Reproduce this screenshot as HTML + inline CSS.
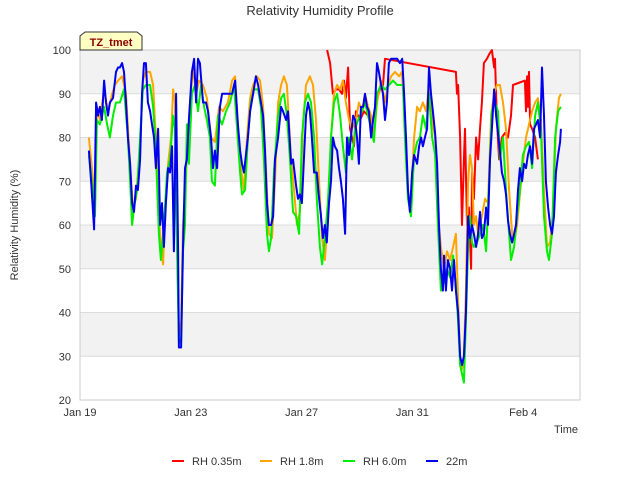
<!DOCTYPE html>
<html><head><meta charset="utf-8"><style>
body{margin:0;background:#fff;font-family:"Liberation Sans",sans-serif;}
svg text{font-family:"Liberation Sans",sans-serif;}
</style></head><body>
<svg width="640" height="480" xmlns="http://www.w3.org/2000/svg">
<text x="320" y="15" text-anchor="middle" font-size="13" fill="#333">Relativity Humidity Profile</text>
<g id="plot"></g>
<text x="18" y="225" transform="rotate(-90 18 225)" text-anchor="middle" font-size="11" fill="#333">Relativity Humidity (%)</text>
<text x="578" y="433" text-anchor="end" font-size="11" fill="#333">Time</text>
<g>
<polygon points="80,36 85,32 137,32 142,36 142,50 80,50" fill="#ffffc4" stroke="#333" stroke-width="1"/>
<text x="111" y="46" text-anchor="middle" font-size="11" font-weight="bold" fill="#8b0000">TZ_tmet</text>
</g>
<g id="legend"></g>
</svg>
<script>
const yTicks=[20,30,40,50,60,70,80,90,100];
const xTickDays=[0,4,8,12,16];
const xTickLabels=["Jan 19","Jan 23","Jan 27","Jan 31","Feb 4"];
const seriesNames=["RH 0.35m","RH 1.8m","RH 6.0m","22m"];
const seriesColors=["#ff0000","#ffa500","#00ee00","#0000ee"];
const redT=[8.92,9.03,9.13,9.24,9.35,9.46,9.53,9.60,9.68,9.75,9.82,9.89,9.96,10.11,10.25,10.40,10.54,10.69,10.83,10.94,11.01,13.57,13.61,13.65,13.72,13.79,13.86,13.90,13.97,14.04,14.12,14.15,14.22,14.30,14.37,14.44,14.51,14.58,14.69,14.77,14.87,14.95,14.98,15.05,15.13,15.23,15.34,15.45,15.56,15.63,16.06,16.10,16.14,16.17,16.21,16.25,16.32,16.43,16.53];
const redV=[100,97,90,91,91,90,93,89,96,82,80,78,86,84,86,85,83,88,91,92,98,95,90,92,80,60,75,82,60,64,50,72,66,80,75,82,88,97,98,99,100,96,98,84,75,80,81,80,85,92,93,86,94,87,95,83,82,80,75];
const orangeT=[.32,.43,.54,.61,.72,.87,1.01,1.16,1.26,1.37,1.52,1.66,1.81,1.91,2.02,2.17,2.27,2.38,2.53,2.64,2.71,2.78,2.85,2.92,3.00,3.07,3.18,3.29,3.36,3.43,3.50,3.57,3.65,3.72,3.79,3.86,3.97,4.08,4.19,4.30,4.44,4.58,4.73,4.87,5.02,5.16,5.34,5.49,5.60,5.70,5.81,5.92,6.03,6.14,6.25,6.39,6.50,6.61,6.71,6.82,6.93,7.04,7.15,7.26,7.36,7.47,7.62,7.73,7.83,7.94,8.05,8.16,8.30,8.41,8.52,8.63,8.74,8.84,8.95,9.06,9.17,9.28,9.39,9.49,9.60,9.71,9.82,9.96,10.07,10.18,10.29,10.40,10.51,10.61,10.72,10.87,11.01,11.12,11.23,11.37,11.52,11.62,11.73,11.84,11.95,12.06,12.17,12.27,12.38,12.49,12.60,12.71,12.82,12.92,13.03,13.14,13.25,13.36,13.47,13.57,13.65,13.72,13.79,13.86,13.93,14.01,14.08,14.15,14.22,14.30,14.37,14.44,14.51,14.62,14.73,14.84,14.95,15.05,15.16,15.27,15.38,15.49,15.60,15.67,15.78,15.88,15.99,16.10,16.21,16.32,16.43,16.53,16.64,16.75,16.86,16.97,17.08,17.18,17.29,17.36];
const orangeV=[80,73,65,87,84,91,86,90,92,93,94,90,74,64,66,78,93,95,95,92,83,78,62,55,51,63,74,80,91,88,58,35,38,60,67,76,88,96,90,93,92,89,80,79,87,86,88,93,94,83,73,68,80,89,92,94,93,87,73,58,57,70,88,92,94,92,75,68,60,63,83,92,94,92,84,70,57,52,62,80,90,92,91,93,88,84,82,84,88,86,90,87,85,80,88,93,88,92,94,95,94,95,84,66,66,80,87,86,88,86,92,84,80,62,55,50,54,52,55,58,43,30,27,30,45,70,76,73,60,62,58,60,62,66,65,85,90,92,92,88,82,68,58,56,60,67,74,80,83,86,88,89,84,68,55,56,63,82,89,90];
const greenT=[.32,.43,.54,.61,.72,.87,.98,1.08,1.19,1.30,1.44,1.59,1.73,1.81,1.88,1.95,2.06,2.17,2.27,2.38,2.53,2.64,2.71,2.78,2.85,2.92,3.03,3.14,3.25,3.36,3.43,3.50,3.57,3.65,3.72,3.79,3.86,3.93,4.04,4.15,4.26,4.37,4.48,4.58,4.69,4.76,4.87,4.98,5.13,5.27,5.42,5.56,5.67,5.78,5.85,5.96,6.06,6.17,6.28,6.43,6.53,6.64,6.75,6.82,6.90,7.00,7.15,7.26,7.36,7.47,7.58,7.69,7.80,7.91,8.01,8.12,8.23,8.34,8.45,8.55,8.66,8.74,8.84,8.95,9.06,9.17,9.28,9.39,9.49,9.60,9.71,9.82,9.93,10.04,10.18,10.29,10.40,10.51,10.61,10.72,10.87,11.01,11.16,11.30,11.45,11.59,11.66,11.73,11.84,11.95,12.06,12.17,12.27,12.38,12.49,12.60,12.71,12.82,12.92,13.03,13.14,13.25,13.36,13.47,13.57,13.65,13.72,13.79,13.86,13.93,14.01,14.08,14.15,14.22,14.33,14.44,14.55,14.66,14.77,14.87,14.98,15.09,15.16,15.27,15.38,15.49,15.56,15.67,15.78,15.88,15.99,16.10,16.21,16.32,16.43,16.53,16.64,16.75,16.86,16.93,17.04,17.15,17.26,17.36];
const greenV=[76,70,62,84,83,87,83,80,85,88,88,91,80,70,60,64,68,80,91,92,92,87,80,70,58,52,60,72,75,85,82,55,33,34,54,60,83,74,90,92,86,92,87,84,80,70,69,85,83,86,88,92,82,72,67,68,80,88,91,91,87,75,58,54,57,72,85,89,90,85,75,63,62,58,80,88,90,88,80,66,55,51,57,65,80,88,90,85,78,72,80,75,82,84,86,88,85,82,79,90,92,91,92,93,92,92,92,80,66,62,76,79,80,85,82,90,80,76,60,45,47,50,48,53,46,38,28,26,24,38,55,62,56,55,56,58,60,54,70,86,88,86,75,80,68,58,52,55,62,68,76,78,79,73,85,88,82,62,54,52,58,80,86,87];
const blueT=[.32,.40,.51,.58,.65,.72,.79,.87,.94,1.01,1.08,1.19,1.30,1.37,1.44,1.52,1.59,1.66,1.73,1.81,1.88,1.95,2.02,2.09,2.17,2.24,2.31,2.38,2.45,2.53,2.60,2.67,2.74,2.82,2.89,2.96,3.03,3.10,3.18,3.25,3.32,3.39,3.47,3.54,3.57,3.65,3.72,3.79,3.86,3.93,4.04,4.12,4.19,4.26,4.33,4.44,4.55,4.62,4.73,4.80,4.87,4.95,5.05,5.13,5.23,5.34,5.49,5.60,5.70,5.78,5.85,5.92,5.99,6.06,6.14,6.25,6.35,6.43,6.53,6.61,6.68,6.75,6.82,6.90,6.97,7.04,7.15,7.26,7.33,7.44,7.51,7.62,7.69,7.80,7.87,7.94,8.01,8.09,8.16,8.23,8.30,8.37,8.45,8.55,8.63,8.70,8.77,8.84,8.91,8.99,9.06,9.13,9.20,9.28,9.35,9.42,9.49,9.57,9.64,9.71,9.78,9.86,9.93,10.00,10.07,10.14,10.22,10.29,10.36,10.43,10.51,10.58,10.65,10.72,10.79,10.87,10.94,11.01,11.08,11.15,11.23,11.34,11.45,11.55,11.63,11.70,11.77,11.84,11.91,11.99,12.06,12.17,12.24,12.31,12.38,12.45,12.53,12.60,12.67,12.74,12.82,12.89,12.96,13.03,13.10,13.14,13.21,13.28,13.36,13.43,13.50,13.57,13.65,13.72,13.79,13.86,13.93,14.01,14.08,14.15,14.22,14.30,14.37,14.44,14.51,14.58,14.66,14.73,14.80,14.87,14.95,15.02,15.09,15.16,15.23,15.31,15.38,15.45,15.52,15.60,15.67,15.74,15.81,15.88,15.96,16.03,16.10,16.17,16.25,16.32,16.39,16.46,16.53,16.61,16.68,16.75,16.82,16.90,16.97,17.04,17.11,17.18,17.26,17.33,17.36];
const blueV=[77,70,59,88,85,87,84,93,88,85,88,89,95,96,96,97,95,88,80,74,65,63,69,68,75,90,97,97,88,86,83,80,73,82,60,65,55,65,73,72,78,54,90,54,32,32,55,73,75,84,95,98,88,98,97,88,88,86,80,73,77,73,87,90,90,90,90,93,83,77,74,72,76,80,86,90,94,92,88,85,77,65,60,60,62,75,80,87,86,84,86,74,75,69,66,67,65,76,85,88,86,80,72,72,66,62,57,60,56,65,70,80,78,77,73,70,66,58,80,76,80,85,84,80,74,87,87,90,87,86,80,84,87,97,95,92,90,84,88,97,98,98,98,97,98,90,80,68,63,72,76,74,78,80,78,80,82,96,90,86,81,74,60,50,45,53,45,52,50,45,52,45,40,30,28,30,40,62,57,60,58,55,58,63,57,58,64,60,75,82,91,85,81,77,72,70,67,61,58,56,58,60,68,73,70,74,73,76,78,74,82,83,84,80,96,85,70,64,60,58,62,72,76,79,82];

const NS="http://www.w3.org/2000/svg";
const X0=80,X1=580,Y0=400,Y1=50;
const xScale=d=>X0+d*(X1-X0)/18.05;
const yScale=v=>Y0-(v-20)*(Y0-Y1)/80;
const plot=document.getElementById('plot');
function mk(tag,attrs,parent){const e=document.createElementNS(NS,tag);for(const k in attrs)e.setAttribute(k,attrs[k]);parent.appendChild(e);return e;}
// bands
for(let i=0;i<yTicks.length-1;i++){
  if((yTicks[i]/10)%2===1){
    const b=mk('rect',{x:X0,y:yScale(yTicks[i+1]),width:X1-X0,height:yScale(yTicks[i])-yScale(yTicks[i+1]),fill:'#f2f2f2'},plot);
    
    
  }
}
yTicks.forEach(v=>{
  const l=mk('line',{x1:X0,x2:X1,y1:yScale(v),y2:yScale(v),stroke:'#dcdcdc','stroke-width':1},plot);
  
  
  const t=mk('text',{x:X0-9,y:yScale(v)+4,'text-anchor':'end','font-size':11,fill:'#333'},plot);
  t.textContent=v;
  
  
});
const fr=mk('rect',{x:X0,y:Y1,width:X1-X0,height:Y0-Y1,fill:'none',stroke:'#ccc'},plot);


xTickDays.forEach((d,i)=>{
  const t=mk('text',{x:xScale(d),y:Y0+16,'text-anchor':'middle','font-size':11,fill:'#333'},plot);
  t.textContent=xTickLabels[i];
  
  
});
const allT=[redT,orangeT,greenT,blueT],allV=[redV,orangeV,greenV,blueV];
allT.forEach((T,s)=>{
  const pts=T.map((d,i)=>xScale(d).toFixed(1)+','+yScale(allV[s][i]).toFixed(1)).join(' ');
  const p=mk('polyline',{points:pts,fill:'none',stroke:seriesColors[s],'stroke-width':2,'stroke-linejoin':'round'},plot);
  
  
});
const leg=document.getElementById('legend');
const legX=[172,260,343,426];
seriesNames.forEach((n,i)=>{
  const g=mk('g',{},leg);
  
  
  mk('line',{x1:legX[i],x2:legX[i]+12,y1:461,y2:461,stroke:seriesColors[i],'stroke-width':2},g);
  const t=mk('text',{x:legX[i]+20,y:465,'font-size':11,fill:'#333'},g);
  t.textContent=n;
});
</script>
</body></html>
